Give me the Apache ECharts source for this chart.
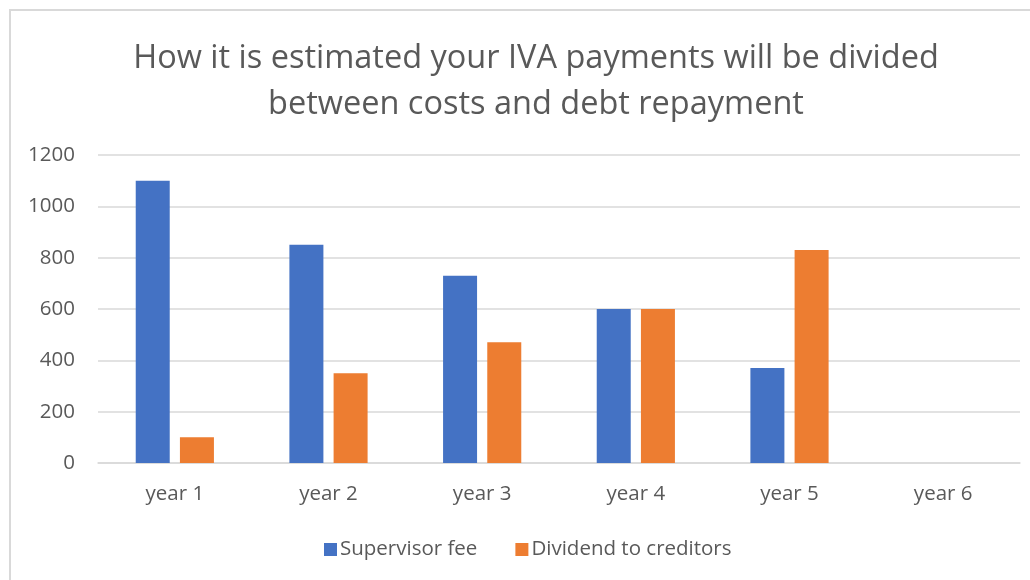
<!DOCTYPE html>
<html>
<head>
<meta charset="utf-8">
<script src="https://cdn.jsdelivr.net/npm/echarts@6/dist/echarts.min.js"></script>
<style>
  html, body { margin: 0; padding: 0; background: #fff; }
  #chart { width: 1030px; height: 580px; }
</style>
</head>
<body>
<div id="chart"></div>
<script>
const categories = ["year 1", "year 2", "year 3", "year 4", "year 5", "year 6"];
const supervisorFee = [1100, 850, 730, 600, 370, 0];
const dividend = [100, 350, 470, 600, 830, 0];
const yTicks = [0, 200, 400, 600, 800, 1000, 1200];

const textColor = "#595959";
const font = "Open Sans";

const chart = echarts.init(document.getElementById("chart"));

const option = {
  animation: false,
  textStyle: { fontFamily: font },
  title: {
    text: "How it is estimated your IVA payments will be divided\nbetween costs and debt repayment",
    left: 531,
    top: 31,
    textAlign: "center",
    textStyle: {
      fontFamily: font,
      fontSize: 32.5,
      fontWeight: "normal",
      color: textColor,
      lineHeight: 46,
    },
  },
  graphic: [
    {
      type: "rect",
      shape: { x: 10, y: 10, width: 1100, height: 700 },
      style: { fill: null, stroke: "#d9d9d9", lineWidth: 2 },
    },
  ],
  legend: {
    left: 319,
    top: 534,
    itemWidth: 13,
    itemHeight: 13,
    itemGap: 38,
    icon: "rect",
    textStyle: { fontFamily: font, fontSize: 20.5, color: textColor, padding: [0, 0, 0, -2] },
    data: ["Supervisor fee", "Dividend to creditors"],
  },
  grid: {
    left: 98,
    right: 10,
    top: 155,
    bottom: 117,
    containLabel: false,
  },
  xAxis: {
    type: "category",
    data: categories,
    axisLine: { lineStyle: { color: "#d9d9d9", width: 1.5 } },
    axisTick: { show: false },
    axisLabel: { fontFamily: font, fontSize: 20.5, color: textColor, margin: 21 },
  },
  yAxis: {
    type: "value",
    min: yTicks[0],
    max: yTicks[yTicks.length - 1],
    interval: 200,
    axisLine: { show: false },
    axisTick: { show: false },
    axisLabel: {
      fontFamily: font,
      fontSize: 20.5,
      color: textColor,
      margin: 23,
      formatter: (v) => String(v),
    },
    splitLine: { lineStyle: { color: "#d9d9d9", width: 1.5 } },
  },
  series: [
    {
      name: "Supervisor fee",
      type: "bar",
      data: supervisorFee,
      barWidth: 34,
      barGap: "30%",
      itemStyle: { color: "#4472C4" },
    },
    {
      name: "Dividend to creditors",
      type: "bar",
      data: dividend,
      barWidth: 34,
      itemStyle: { color: "#ED7D31" },
    },
  ],
};

chart.setOption(option);
</script>
</body>
</html>
